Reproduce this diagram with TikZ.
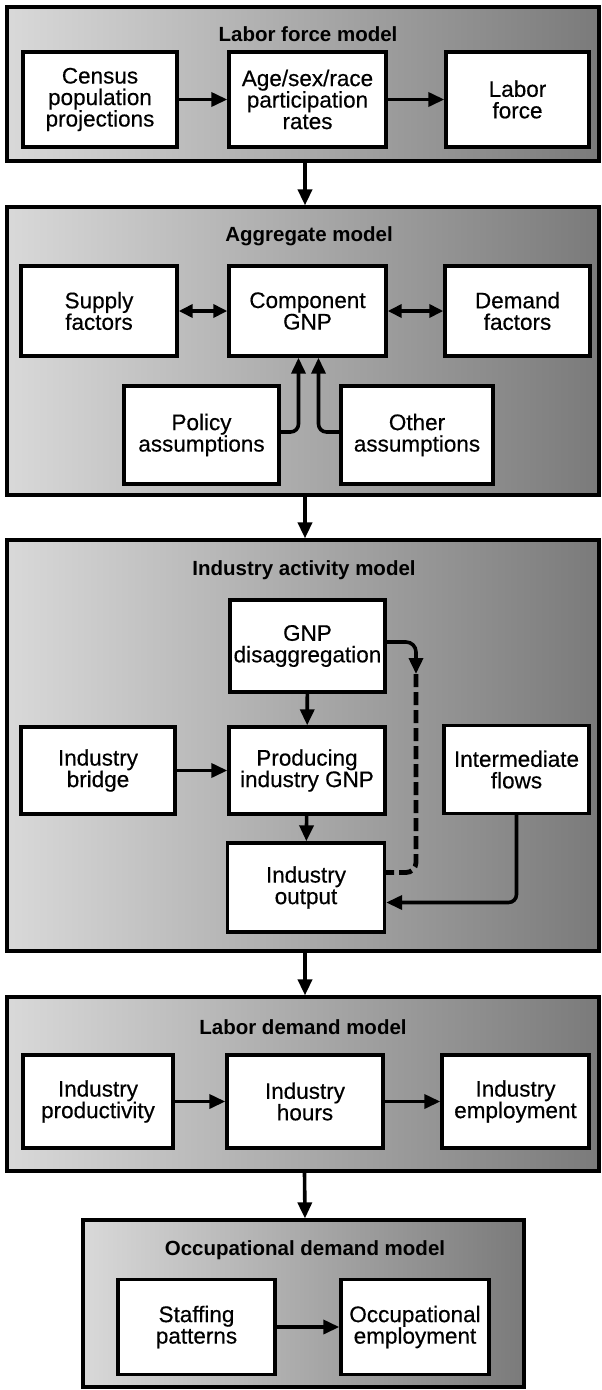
\documentclass[tikz,border=0pt]{standalone}
\usepackage{fontspec}
\setmainfont{Liberation Sans}
\newfontfamily\boxfont[FakeBold=0.4]{Liberation Sans}
\usetikzlibrary{arrows.meta,calc}
\begin{document}
\begin{tikzpicture}[x=1pt,y=-1pt,
  panel/.style={draw, line width=3.2pt, left color=black!15, right color=black!52, inner sep=0pt},
  box/.style={draw, line width=3.4pt, fill=white, align=center, inner sep=0pt,
    font=\boxfont\fontsize{22.5}{21.5}\selectfont},
  ttl/.style={font=\bfseries\fontsize{20.5}{22}\selectfont, inner sep=1pt},
  arr/.style={line width=3.6pt, -{Triangle[length=16pt,width=14pt]}},
  darr/.style={line width=3.6pt, {Triangle[length=14pt,width=13pt]}-{Triangle[length=14pt,width=13pt]}},
  dashline/.style={line width=4.8pt, dash pattern=on 13pt off 5pt},
]
\useasboundingbox (0,0) rectangle (602,1390);

% ---------- panels ----------
\node[panel, minimum width=592pt, minimum height=154pt] (p1) at (303,84) {};
\node[panel, minimum width=592pt, minimum height=288pt] (p2) at (303,351) {};
\node[panel, minimum width=592pt, minimum height=411pt] (p3) at (303,745.5) {};
\node[panel, minimum width=592pt, minimum height=174pt] (p4) at (303,1084) {};
\node[panel, minimum width=441pt, minimum height=167pt] (p5) at (303.5,1303.5) {};

% ---------- titles ----------
\node[ttl] (t1) at (308,34) {Labor force model};
\node[ttl] (t2) at (309,236) {Aggregate model};
\node[ttl] (t3) at (304,570) {Industry activity model};
\node[ttl] (t4) at (303,1027) {Labor demand model};
\node[ttl] (t5) at (305,1250) {Occupational demand model};

% ---------- panel 1 ----------
\node[box, minimum width=154pt, minimum height=95pt] (census) at (100,99.5) {Census\\population\\projections};
\node[box, minimum width=157pt, minimum height=95pt] (age) at (307.5,99.5) {Age/sex/race\\participation\\rates};
\node[box, minimum width=143pt, minimum height=95pt] (labor) at (517.5,99.5) {Labor\\force};
\draw[arr] (census) -- (age);
\draw[arr] (age) -- (labor);

% ---------- panel 2 ----------
\node[box, minimum width=156pt, minimum height=90pt] (supply) at (99,311) {Supply\\factors};
\node[box, minimum width=157pt, minimum height=90pt] (comp) at (307.5,311) {Component\\GNP};
\node[box, minimum width=145pt, minimum height=90pt] (demand) at (517.5,311) {Demand\\factors};
\node[box, minimum width=155pt, minimum height=98pt] (policy) at (201.5,435) {Policy\\assumptions};
\node[box, minimum width=152pt, minimum height=98pt] (other) at (417,435) {Other\\assumptions};
\draw[darr] (supply) -- (comp);
\draw[darr] (comp) -- (demand);
\draw[arr, rounded corners=8pt] ([yshift=3pt]policy.east) -| ([xshift=-9pt]comp.south);
\draw[arr, rounded corners=8pt] ([yshift=3pt]other.west) -| ([xshift=11pt]comp.south);

% ---------- panel 3 ----------
\node[box, minimum width=155pt, minimum height=92pt] (gnp) at (307.5,646) {GNP\\disaggregation};
\node[box, minimum width=156pt, minimum height=87pt] (prod) at (307,770.5) {Producing\\industry GNP};
\node[box, minimum width=154pt, minimum height=87pt] (bridge) at (98,770.5) {Industry\\bridge};
\node[box, minimum width=145pt, minimum height=88pt] (inter) at (516.5,769.5) {Intermediate\\flows};
\node[box, minimum width=157pt, minimum height=89pt] (output) at (306,887.5) {Industry\\output};
\draw[arr] (gnp) -- (prod);
\draw[arr] (prod) -- (output);
\draw[arr] (bridge.east |- prod.west) -- (prod.west);
\draw[arr, rounded corners=8pt] (inter.south) |- ([yshift=-15pt]output.east);
\coordinate (dtop) at (416,674);
\draw[arr, rounded corners=10pt] ([yshift=4pt]gnp.east) -| (dtop);
\draw[dashline, rounded corners=10pt] (dtop) |- ([yshift=15pt]output.east);

% ---------- panel 4 ----------
\node[box, minimum width=150pt, minimum height=93pt] (prodty) at (98,1101.5) {Industry\\productivity};
\node[box, minimum width=156pt, minimum height=93pt] (hours) at (305,1101.5) {Industry\\hours};
\node[box, minimum width=147pt, minimum height=93pt] (employ) at (515.5,1101.5) {Industry\\employment};
\draw[arr] (prodty) -- (hours);
\draw[arr] (hours) -- (employ);

% ---------- panel 5 ----------
\node[box, minimum width=157pt, minimum height=95pt] (staff) at (196.5,1327) {Staffing\\patterns};
\node[box, minimum width=148pt, minimum height=95pt] (occ) at (415,1327) {Occupational\\employment};
\draw[arr] (staff) -- (occ);

% ---------- between panels ----------
\draw[arr] ([xshift=2pt]p1.south) -- ([xshift=2pt]p2.north);
\draw[arr] ([xshift=2pt]p2.south) -- ([xshift=2pt]p3.north);
\draw[arr] ([xshift=2pt]p3.south) -- ([xshift=2pt]p4.north);
\draw[arr] ([xshift=1.5pt]p4.south) -- ([xshift=1.5pt]p5.north);
\end{tikzpicture}
\end{document}
